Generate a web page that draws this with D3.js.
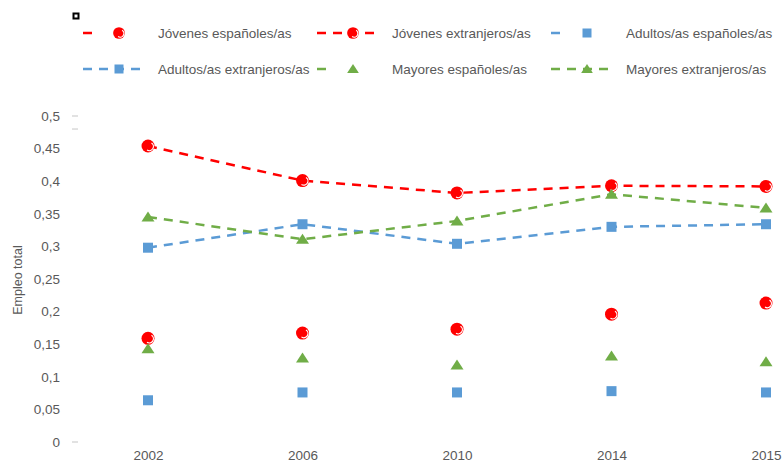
<!DOCTYPE html>
<html>
<head>
<meta charset="utf-8">
<script src="https://cdn.jsdelivr.net/npm/d3@7"></script>
<style>
  html, body { margin: 0; padding: 0; background: #fff; }
  svg { display: block; font-family: "Liberation Sans", Arial, sans-serif; }
</style>
</head>
<body>
<svg id="chart" width="784" height="468"></svg>
<script>
// Años de la serie
const years = ["2002", "2006", "2010", "2014", "2015"];

// Tasa de empleo por grupo de edad y nacionalidad
const jovenesEsp = [0.159, 0.167, 0.173, 0.196, 0.213];
const jovenesExt = [0.454, 0.401, 0.382, 0.393, 0.392];
const adultosEsp = [0.064, 0.076, 0.076, 0.078, 0.076];
const adultosExt = [0.298, 0.334, 0.304, 0.330, 0.334];
const mayoresEsp = [0.143, 0.129, 0.118, 0.132, 0.123];
const mayoresExt = [0.345, 0.311, 0.339, 0.380, 0.359];

const yTicks = [0, 0.05, 0.1, 0.15, 0.2, 0.25, 0.3, 0.35, 0.4, 0.45, 0.5];

const series = [
  { name: "Jóvenes españoles/as",      values: jovenesEsp, color: "#ff0000", marker: "circle",   line: false },
  { name: "Jóvenes extranjeros/as",    values: jovenesExt, color: "#ff0000", marker: "circle",   line: true  },
  { name: "Adultos/as españoles/as",   values: adultosEsp, color: "#5b9bd5", marker: "square",   line: false },
  { name: "Adultos/as extranjeros/as", values: adultosExt, color: "#5b9bd5", marker: "square",   line: true  },
  { name: "Mayores españoles/as",      values: mayoresEsp, color: "#70ad47", marker: "triangle", line: false },
  { name: "Mayores extranjeros/as",    values: mayoresExt, color: "#70ad47", marker: "triangle", line: true  }
];

const svg = d3.select("#chart");
const textColor = "#595959";

const x = d3.scalePoint().domain(years).range([148, 766]);
const y = d3.scaleLinear().domain([0, 0.5]).range([442, 116]);

const fmt = v => String(+v.toFixed(2)).replace(".", ",");

// Eje Y: etiquetas sin línea
const yAxis = d3.axisLeft(y).tickValues(yTicks).tickFormat(fmt).tickSize(0).tickPadding(0);
const gy = svg.append("g").attr("transform", "translate(60,0)").call(yAxis);
gy.select(".domain").remove();
gy.selectAll("text").attr("fill", textColor).style("font-size", "13.5px")
  .style("font-family", "'Liberation Sans', Arial, sans-serif");

// Pequeñas marcas grises del eje
[0, 0.5, 0.48].forEach(v => {
  svg.append("line").attr("x1", 72).attr("x2", 78)
    .attr("y1", y(v)).attr("y2", y(v))
    .attr("stroke", "#d9d9d9").attr("stroke-width", 1.5);
});

// Eje X: etiquetas de años
const xAxis = d3.axisBottom(x).tickSize(0).tickPadding(0);
const gx = svg.append("g").attr("transform", "translate(0,450)").call(xAxis);
gx.select(".domain").remove();
gx.selectAll("text").attr("fill", textColor).style("font-size", "13.5px")
  .style("font-family", "'Liberation Sans', Arial, sans-serif");

// Título del eje Y
svg.append("text")
  .attr("transform", "translate(22,280) rotate(-90)")
  .attr("text-anchor", "middle")
  .attr("fill", textColor)
  .style("font-size", "12.5px")
  .text("Empleo total");

// Dibujo de marcadores
function drawMarker(g, type, color, cx, cy, s) {
  s = s || 1;
  if (type === "circle") {
    g.append("circle").attr("cx", cx).attr("cy", cy).attr("r", 6.5 * s).attr("fill", color);
    g.append("path")
      .attr("d", `M${cx + 3.5 * s},${cy - 3 * s} A${4 * s},${4 * s} 0 0 1 ${cx - 1 * s},${cy + 4 * s}`)
      .attr("fill", "none").attr("stroke", "#fff").attr("stroke-width", 1.2);
  } else if (type === "square") {
    g.append("rect").attr("x", cx - 5 * s).attr("y", cy - 5 * s)
      .attr("width", 10 * s).attr("height", 10 * s).attr("fill", color);
  } else {
    const h = 10 * s, w = 13 * s;
    g.append("path")
      .attr("d", `M${cx},${cy - h * 0.55} L${cx + w / 2},${cy + h * 0.45} L${cx - w / 2},${cy + h * 0.45} Z`)
      .attr("fill", color);
  }
}

const line = d3.line().x((d, i) => x(years[i])).y(d => y(d));

const plot = svg.append("g");
series.forEach(s => {
  if (s.line) {
    plot.append("path").datum(s.values)
      .attr("d", line)
      .attr("fill", "none")
      .attr("stroke", s.color)
      .attr("stroke-width", 2.5)
      .attr("stroke-dasharray", "9,7");
  }
});
series.forEach(s => {
  const g = plot.append("g");
  s.values.forEach((v, i) => drawMarker(g, s.marker, s.color, x(years[i]), y(v)));
});

// Leyenda en dos filas de tres
const legendX = [83, 317, 551];
const legendY = [33, 69];
const lg = svg.append("g");
series.forEach((s, k) => {
  const lx = legendX[k % 3], ly = legendY[Math.floor(k / 3)];
  if (s.line) {
    lg.append("line").attr("x1", lx).attr("x2", lx + 64).attr("y1", ly).attr("y2", ly)
      .attr("stroke", s.color).attr("stroke-width", 2.5).attr("stroke-dasharray", "9,7");
  } else {
    lg.append("line").attr("x1", lx).attr("x2", lx + 9).attr("y1", ly).attr("y2", ly)
      .attr("stroke", s.color).attr("stroke-width", 2.5);
  }
  drawMarker(lg, s.marker, s.color, lx + 36, ly, 0.9);
  lg.append("text").attr("x", lx + 75).attr("y", ly).attr("dy", "0.35em")
    .attr("fill", textColor).style("font-size", "13.5px").text(s.name);
});

// Pequeño cuadro negro sobre la leyenda
svg.append("rect").attr("x", 73.5).attr("y", 13.5).attr("width", 5).attr("height", 5)
  .attr("fill", "#fff").attr("stroke", "#000").attr("stroke-width", 2);
</script>
</body>
</html>
